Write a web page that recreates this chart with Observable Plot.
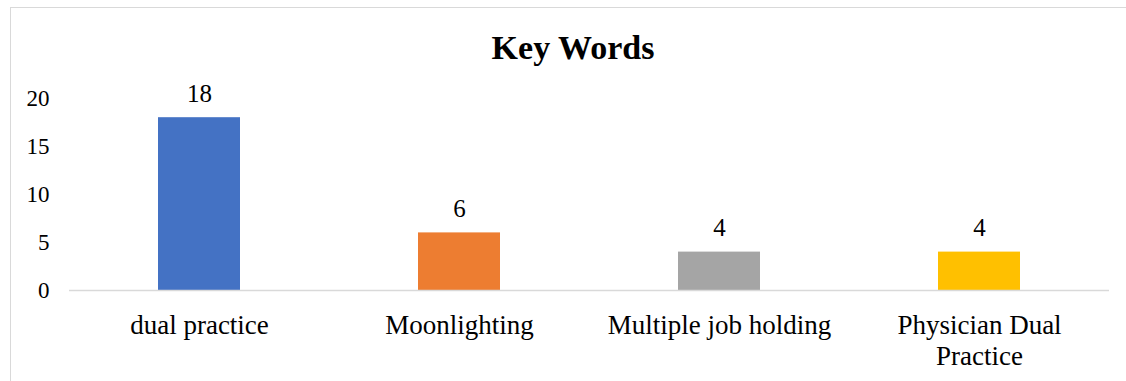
<!DOCTYPE html>
<html>
<head>
<meta charset="utf-8">
<script src="https://cdn.jsdelivr.net/npm/d3@7"></script>
<script src="https://cdn.jsdelivr.net/npm/@observablehq/plot@0.6"></script>
<style>
  html, body { margin: 0; padding: 0; background: #fff; }
  #wrap { position: relative; width: 1126px; height: 381px; overflow: hidden; font-family: "Liberation Serif", "Times New Roman", serif; }
  #frame { position: absolute; left: 10px; top: 7px; width: 1200px; height: 400px; border-left: 1.5px solid #d9d9d9; border-top: 1.5px solid #d9d9d9; }
  #title { position: relative; box-sizing: border-box; height: 70px; padding-top: 31px; padding-left: 20px; width: 1126px; text-align: center; font-size: 34px; line-height: 33px; font-weight: bold; color: #000; }
  #chart { position: relative; }
  #chart svg, #chart svg text { font-family: "Liberation Serif", "Times New Roman", serif !important; font-variant: normal !important; }
</style>
</head>
<body>
<div id="wrap">
  <div id="frame"></div>
  <div id="title">Key Words</div>
  <div id="chart"></div>
</div>
<script>
const categories = ["dual practice", "Moonlighting", "Multiple job holding", "Physician Dual Practice"];
const values = [18, 6, 4, 4];
const yTicks = [0, 5, 10, 15, 20];
const palette = ["#4472C4", "#ED7D31", "#A5A5A5", "#FFC000"];

const data = categories.map((c, i) => ({category: c, value: values[i]}));

const chart = Plot.plot({
  width: 1126,
  height: 311,
  marginLeft: 69,
  marginRight: 17,
  marginTop: 28,
  marginBottom: 91,
  style: {fontFamily: '"Liberation Serif", "Times New Roman", serif', color: "#000", background: "transparent"},
  x: {domain: categories, paddingInner: 0.685, paddingOuter: 0.3425, label: null},
  y: {domain: [0, 20], label: null},
  color: {domain: categories, range: palette},
  marks: [
    Plot.barY(data, {x: "category", y: "value", fill: "category"}),
    Plot.ruleY([0], {stroke: "#d9d9d9", strokeWidth: 1.5}),
    Plot.text(data, {x: "category", y: "value", text: d => String(d.value), dy: -24, lineAnchor: "middle", fontSize: 25, fill: "#000"}),
    Plot.axisY({ticks: yTicks, tickSize: 0, tickPadding: 20, fontSize: 23, label: null}),
    Plot.axisX({tickSize: 0, tickPadding: 21, fontSize: 27, lineWidth: 9.5, lineHeight: 1.15, label: null})
  ]
});
document.getElementById("chart").appendChild(chart);
</script>
</body>
</html>
